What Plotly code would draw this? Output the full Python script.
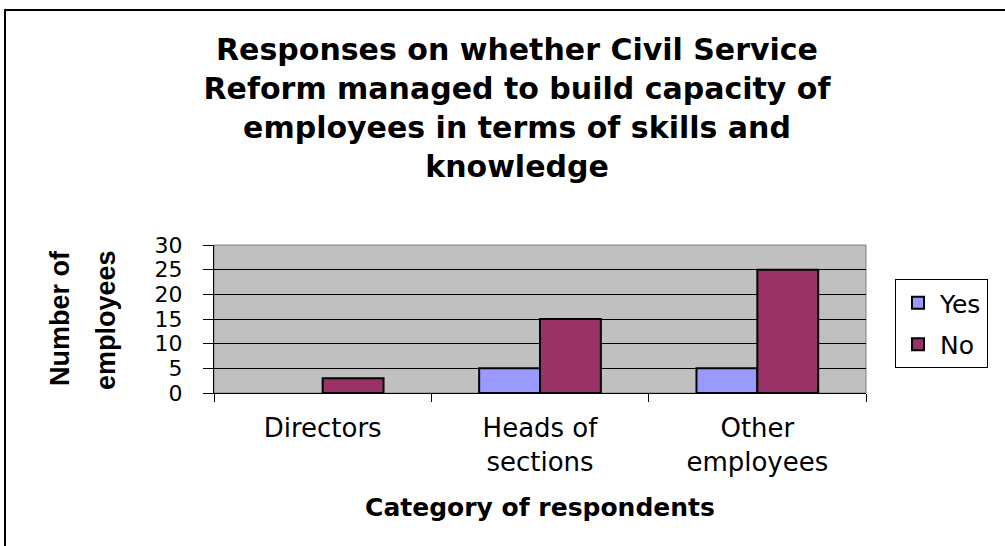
import plotly.graph_objects as go

categories = ["Directors", "Heads of<br>sections", "Other<br>employees"]
yes_values = [None, 5, 5]
no_values = [3, 15, 25]
y_ticks = [0, 5, 10, 15, 20, 25, 30]

W, H = 1005, 546
L, R, T, B = 214, 866, 245, 393

fig = go.Figure()
fig.add_trace(go.Bar(name="Yes", x=categories, y=yes_values, legendgroup="a",
                     marker=dict(color="#9999FF", line=dict(color="black", width=2))))
fig.add_trace(go.Bar(name="No", x=categories, y=no_values, legendgroup="b",
                     marker=dict(color="#993366", line=dict(color="black", width=2))))

def px_x(x):
    return (x - L) / (R - L)

def px_y(y):
    return (B - y) / (B - T)

fig.update_layout(
    width=W, height=H,
    margin=dict(l=L, r=W - R, t=T, b=H - B, pad=0),
    paper_bgcolor="white",
    plot_bgcolor="#C0C0C0",
    barmode="group", bargap=0.44, bargroupgap=0,
    showlegend=True,
    title=dict(
        text="Responses on whether Civil Service<br>Reform managed to build capacity of<br>employees in terms of skills and<br>knowledge",
        x=517 / W, xanchor="center", xref="container",
        y=1 - 60 / H, yanchor="top", yref="container",
        font=dict(family="DejaVu Sans", size=30, color="black", weight="bold"),
    ),
    legend=dict(
        x=px_x(895), xanchor="left", y=px_y(279), yanchor="top",
        bgcolor="white", bordercolor="black", borderwidth=1,
        font=dict(family="DejaVu Sans", size=25, color="black"),
        traceorder="grouped", tracegroupgap=6,
        itemwidth=34,
    ),
    xaxis=dict(
        type="category", tickson="boundaries", ticks="outside", ticklen=8,
        tickcolor="black", tickwidth=1,
        showline=True, linecolor="black", linewidth=1,
        showgrid=False,
        tickfont=dict(family="DejaVu Sans", size=26, color="black"),
        ticklabelstandoff=12,
        title=dict(text="Category of respondents", standoff=22,
                   font=dict(family="DejaVu Sans", size=25, color="black", weight="bold")),
    ),
    yaxis=dict(
        range=[0, 30], tickvals=y_ticks, ticktext=[str(v) for v in y_ticks],
        ticks="outside", ticklen=10, tickcolor="black", tickwidth=1,
        showline=True, linecolor="black", linewidth=1,
        showgrid=True, gridcolor="black", gridwidth=1,
        zeroline=False,
        tickfont=dict(family="DejaVu Sans", size=22, color="black"),
        ticklabelstandoff=16,
    ),
    shapes=[
        dict(type="rect", xref="paper", yref="paper", x0=0, x1=1, y0=0, y1=1,
             line=dict(color="#808080", width=1), layer="between"),
        dict(type="rect", xref="paper", yref="paper",
             x0=px_x(5), x1=px_x(1030), y0=px_y(570), y1=px_y(10),
             line=dict(color="black", width=2), fillcolor="rgba(0,0,0,0)", layer="above"),
    ],
    annotations=[
        dict(text="Number of", xref="paper", yref="paper", x=px_x(60), y=px_y(318),
             xanchor="center", yanchor="middle", textangle=-90, showarrow=False,
             font=dict(family="Liberation Sans", size=27, color="black", weight="bold")),
        dict(text="employees", xref="paper", yref="paper", x=px_x(106), y=px_y(320),
             xanchor="center", yanchor="middle", textangle=-90, showarrow=False,
             font=dict(family="Liberation Sans", size=27, color="black", weight="bold")),
    ],
)

fig.write_html("out.html")
